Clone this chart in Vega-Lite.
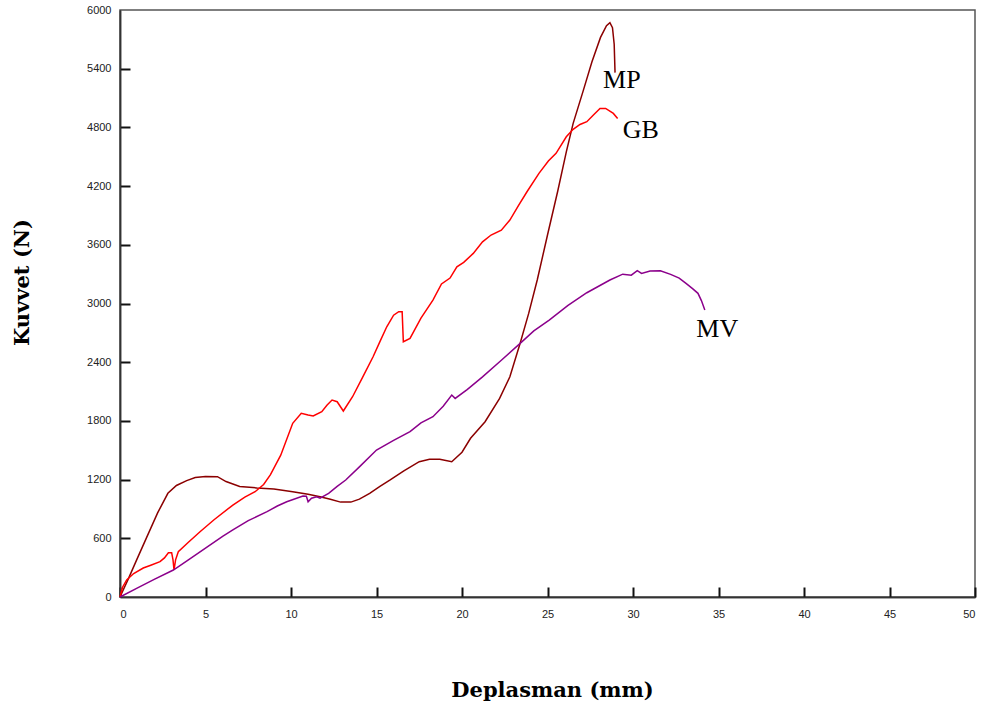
{
  "$schema": "https://vega.github.io/schema/vega-lite/v6.json",
  "autosize": "none",
  "width": 855,
  "height": 587,
  "padding": {"left": 120, "top": 10, "right": 13, "bottom": 116},
  "background": "white",
  "config": {
    "view": {"stroke": "#555555", "strokeWidth": 1.5},
    "axis": {
      "grid": false,
      "domainColor": "#333333",
      "domainWidth": 1.5,
      "tickColor": "#111111",
      "tickWidth": 2,
      "labelFont": "Liberation Sans",
      "labelFontSize": 11,
      "labelColor": "#222222",
      "titleFont": "DejaVu Serif",
      "titleFontWeight": "bold",
      "titleFontSize": 21,
      "titleColor": "#000000"
    }
  },
  "resolve": {"scale": {"x": "independent", "y": "independent"}, "axis": {"x": "independent", "y": "independent"}},
  "datasets": {
    "curves": [
      {"s": "MP", "x": 0, "y": 0}, {"s": "MP", "x": 0.5, "y": 190}, {"s": "MP", "x": 1, "y": 390}, {"s": "MP", "x": 1.56, "y": 610},
      {"s": "MP", "x": 2.2, "y": 860}, {"s": "MP", "x": 2.8, "y": 1060}, {"s": "MP", "x": 3.3, "y": 1140}, {"s": "MP", "x": 3.9, "y": 1190},
      {"s": "MP", "x": 4.4, "y": 1222}, {"s": "MP", "x": 5, "y": 1232}, {"s": "MP", "x": 5.7, "y": 1230}, {"s": "MP", "x": 6.2, "y": 1180},
      {"s": "MP", "x": 7, "y": 1130}, {"s": "MP", "x": 8, "y": 1115}, {"s": "MP", "x": 9, "y": 1105}, {"s": "MP", "x": 10.1, "y": 1076},
      {"s": "MP", "x": 11, "y": 1050}, {"s": "MP", "x": 11.7, "y": 1025}, {"s": "MP", "x": 12.3, "y": 1000}, {"s": "MP", "x": 12.9, "y": 970},
      {"s": "MP", "x": 13.5, "y": 970}, {"s": "MP", "x": 14, "y": 1000}, {"s": "MP", "x": 14.6, "y": 1060}, {"s": "MP", "x": 15.2, "y": 1130},
      {"s": "MP", "x": 15.8, "y": 1196}, {"s": "MP", "x": 16.6, "y": 1290}, {"s": "MP", "x": 17.5, "y": 1383}, {"s": "MP", "x": 18.1, "y": 1407},
      {"s": "MP", "x": 18.7, "y": 1407}, {"s": "MP", "x": 19.4, "y": 1383}, {"s": "MP", "x": 20, "y": 1480}, {"s": "MP", "x": 20.5, "y": 1622},
      {"s": "MP", "x": 21.35, "y": 1792}, {"s": "MP", "x": 22.2, "y": 2030}, {"s": "MP", "x": 22.8, "y": 2251}, {"s": "MP", "x": 23.4, "y": 2593},
      {"s": "MP", "x": 23.9, "y": 2899}, {"s": "MP", "x": 24.4, "y": 3240}, {"s": "MP", "x": 25, "y": 3700}, {"s": "MP", "x": 25.6, "y": 4150},
      {"s": "MP", "x": 26.1, "y": 4550}, {"s": "MP", "x": 26.5, "y": 4841}, {"s": "MP", "x": 27.1, "y": 5181}, {"s": "MP", "x": 27.6, "y": 5470},
      {"s": "MP", "x": 28.1, "y": 5720}, {"s": "MP", "x": 28.45, "y": 5840}, {"s": "MP", "x": 28.65, "y": 5870}, {"s": "MP", "x": 28.8, "y": 5820},
      {"s": "MP", "x": 28.9, "y": 5650}, {"s": "MP", "x": 28.95, "y": 5360},

      {"s": "GB", "x": 0, "y": 0}, {"s": "GB", "x": 0.15, "y": 100}, {"s": "GB", "x": 0.39, "y": 174}, {"s": "GB", "x": 0.8, "y": 240},
      {"s": "GB", "x": 1.36, "y": 296}, {"s": "GB", "x": 1.8, "y": 325}, {"s": "GB", "x": 2.34, "y": 361}, {"s": "GB", "x": 2.6, "y": 400},
      {"s": "GB", "x": 2.83, "y": 453}, {"s": "GB", "x": 3.02, "y": 453}, {"s": "GB", "x": 3.1, "y": 380}, {"s": "GB", "x": 3.16, "y": 276},
      {"s": "GB", "x": 3.25, "y": 380}, {"s": "GB", "x": 3.41, "y": 463}, {"s": "GB", "x": 4, "y": 560}, {"s": "GB", "x": 4.68, "y": 667},
      {"s": "GB", "x": 5.5, "y": 790}, {"s": "GB", "x": 6.6, "y": 940}, {"s": "GB", "x": 7.3, "y": 1020}, {"s": "GB", "x": 7.9, "y": 1076},
      {"s": "GB", "x": 8.4, "y": 1150}, {"s": "GB", "x": 8.8, "y": 1250}, {"s": "GB", "x": 9.4, "y": 1450}, {"s": "GB", "x": 10.1, "y": 1775},
      {"s": "GB", "x": 10.6, "y": 1877}, {"s": "GB", "x": 11, "y": 1860}, {"s": "GB", "x": 11.3, "y": 1850}, {"s": "GB", "x": 11.8, "y": 1894},
      {"s": "GB", "x": 12.1, "y": 1960}, {"s": "GB", "x": 12.4, "y": 2013}, {"s": "GB", "x": 12.7, "y": 1996}, {"s": "GB", "x": 13.06, "y": 1901},
      {"s": "GB", "x": 13.6, "y": 2047}, {"s": "GB", "x": 14.2, "y": 2250}, {"s": "GB", "x": 14.8, "y": 2456}, {"s": "GB", "x": 15.2, "y": 2610},
      {"s": "GB", "x": 15.6, "y": 2762}, {"s": "GB", "x": 16, "y": 2880}, {"s": "GB", "x": 16.3, "y": 2916}, {"s": "GB", "x": 16.5, "y": 2916},
      {"s": "GB", "x": 16.57, "y": 2609}, {"s": "GB", "x": 16.96, "y": 2644}, {"s": "GB", "x": 17.6, "y": 2850}, {"s": "GB", "x": 18.3, "y": 3035},
      {"s": "GB", "x": 18.8, "y": 3200}, {"s": "GB", "x": 19.3, "y": 3260}, {"s": "GB", "x": 19.7, "y": 3375}, {"s": "GB", "x": 20.1, "y": 3420},
      {"s": "GB", "x": 20.66, "y": 3512}, {"s": "GB", "x": 21.2, "y": 3630}, {"s": "GB", "x": 21.7, "y": 3700}, {"s": "GB", "x": 22.3, "y": 3750},
      {"s": "GB", "x": 22.8, "y": 3853}, {"s": "GB", "x": 23.3, "y": 4000}, {"s": "GB", "x": 23.8, "y": 4142}, {"s": "GB", "x": 24.5, "y": 4330},
      {"s": "GB", "x": 25.05, "y": 4456}, {"s": "GB", "x": 25.5, "y": 4535}, {"s": "GB", "x": 26.1, "y": 4704}, {"s": "GB", "x": 26.5, "y": 4780},
      {"s": "GB", "x": 26.9, "y": 4830}, {"s": "GB", "x": 27.3, "y": 4858}, {"s": "GB", "x": 27.7, "y": 4930}, {"s": "GB", "x": 28.07, "y": 4994},
      {"s": "GB", "x": 28.4, "y": 4994}, {"s": "GB", "x": 28.85, "y": 4943}, {"s": "GB", "x": 29.1, "y": 4892},

      {"s": "MV", "x": 0, "y": 0}, {"s": "MV", "x": 1, "y": 90}, {"s": "MV", "x": 2, "y": 180}, {"s": "MV", "x": 3.12, "y": 276},
      {"s": "MV", "x": 4, "y": 380}, {"s": "MV", "x": 5, "y": 500}, {"s": "MV", "x": 6, "y": 620}, {"s": "MV", "x": 6.6, "y": 685},
      {"s": "MV", "x": 7.5, "y": 780}, {"s": "MV", "x": 8.6, "y": 872}, {"s": "MV", "x": 9.2, "y": 930}, {"s": "MV", "x": 9.75, "y": 974},
      {"s": "MV", "x": 10.7, "y": 1032}, {"s": "MV", "x": 10.9, "y": 1030}, {"s": "MV", "x": 11, "y": 974}, {"s": "MV", "x": 11.2, "y": 1010},
      {"s": "MV", "x": 11.5, "y": 1025}, {"s": "MV", "x": 11.7, "y": 1010}, {"s": "MV", "x": 12.2, "y": 1060}, {"s": "MV", "x": 12.7, "y": 1130},
      {"s": "MV", "x": 13.2, "y": 1196}, {"s": "MV", "x": 14, "y": 1330}, {"s": "MV", "x": 15, "y": 1502}, {"s": "MV", "x": 16, "y": 1600},
      {"s": "MV", "x": 16.96, "y": 1690}, {"s": "MV", "x": 17.6, "y": 1780}, {"s": "MV", "x": 18.3, "y": 1843}, {"s": "MV", "x": 18.9, "y": 1950},
      {"s": "MV", "x": 19.4, "y": 2064}, {"s": "MV", "x": 19.6, "y": 2030}, {"s": "MV", "x": 20.3, "y": 2120}, {"s": "MV", "x": 21.2, "y": 2250},
      {"s": "MV", "x": 22.3, "y": 2420}, {"s": "MV", "x": 23.4, "y": 2593}, {"s": "MV", "x": 24.2, "y": 2720}, {"s": "MV", "x": 25.1, "y": 2831},
      {"s": "MV", "x": 26.2, "y": 2980}, {"s": "MV", "x": 27.3, "y": 3110}, {"s": "MV", "x": 28.65, "y": 3240}, {"s": "MV", "x": 29.4, "y": 3300},
      {"s": "MV", "x": 29.9, "y": 3290}, {"s": "MV", "x": 30.25, "y": 3335}, {"s": "MV", "x": 30.5, "y": 3308}, {"s": "MV", "x": 31, "y": 3332},
      {"s": "MV", "x": 31.6, "y": 3335}, {"s": "MV", "x": 32.2, "y": 3298}, {"s": "MV", "x": 32.7, "y": 3260}, {"s": "MV", "x": 33.1, "y": 3206},
      {"s": "MV", "x": 33.5, "y": 3150}, {"s": "MV", "x": 33.8, "y": 3104}, {"s": "MV", "x": 34, "y": 3030}, {"s": "MV", "x": 34.2, "y": 2933}
    ],
    "labels": [
      {"t": "MP", "x": 28.25, "y": 5202},
      {"t": "GB", "x": 29.4, "y": 4691},
      {"t": "MV", "x": 33.7, "y": 2657}
    ]
  },
  "layer": [
    {
      "data": {"name": "curves"},
      "mark": {"type": "line", "strokeWidth": 1.5, "interpolate": "linear"},
      "encoding": {
        "x": {
          "field": "x", "type": "quantitative",
          "scale": {"domain": [0, 50], "nice": false, "zero": false},
          "axis": {
            "orient": "bottom",
            "values": [0, 5, 10, 15, 20, 25, 30, 35, 40, 45, 50],
            "format": "d",
            "ticks": true,
            "tickSize": 0,
            "labelPadding": 11,
            "title": "Deplasman (mm)",
            "titleX": 432,
            "titleY": 93,
            "titleBaseline": "middle",
            "titleAnchor": null,
            "titleAlign": "center"
          }
        },
        "y": {
          "field": "y", "type": "quantitative",
          "scale": {"domain": [0, 6000], "nice": false},
          "axis": {
            "orient": "left",
            "values": [0, 600, 1200, 1800, 2400, 3000, 3600, 4200, 4800, 5400, 6000],
            "format": "d",
            "ticks": true,
            "tickSize": 0,
            "labelPadding": 9,
            "title": "Kuvvet (N)",
            "titleX": -98,
            "titleY": 272,
            "titleAngle": -90,
            "titleBaseline": "middle",
            "titleAlign": "center",
            "titleAnchor": null
          }
        },
        "color": {
          "field": "s", "type": "nominal",
          "scale": {"domain": ["MP", "GB", "MV"], "range": ["#8b0000", "#ff0000", "#8b008b"]},
          "legend": null
        }
      }
    },
    {
      "data": {"name": "labels"},
      "mark": {"type": "text", "font": "Liberation Serif", "fontSize": 26, "align": "left", "baseline": "alphabetic", "color": "#000000"},
      "encoding": {
        "x": {
          "field": "x", "type": "quantitative",
          "scale": {"domain": [0, 50], "nice": false, "zero": false},
          "axis": {
            "orient": "top",
            "offset": -587,
            "tickCount": 10,
            "labelColor": "transparent",
            "tickSize": 10,
            "title": null
          }
        },
        "y": {
          "field": "y", "type": "quantitative",
          "scale": {"domain": [0, 6000], "nice": false, "zero": false},
          "axis": {
            "orient": "right",
            "offset": -855,
            "values": [600, 1200, 1800, 2400, 3000, 3600, 4200, 4800, 5400],
            "labelColor": "transparent",
            "tickSize": 10,
            "title": null
          }
        },
        "text": {"field": "t"}
      }
    }
  ]
}
